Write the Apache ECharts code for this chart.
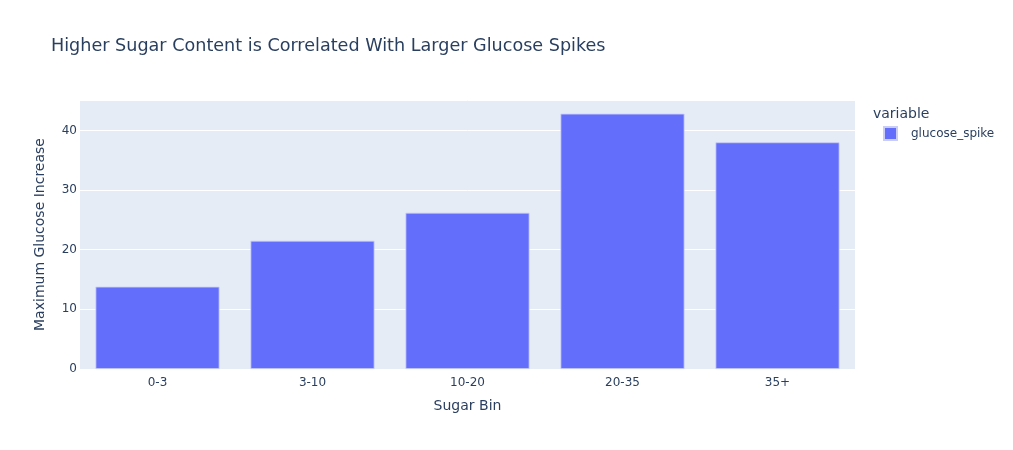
<!DOCTYPE html>
<html>
<head>
<meta charset="utf-8">
<script src="https://cdn.jsdelivr.net/npm/echarts@6/dist/echarts.min.js"></script>
<style>
  html, body { margin: 0; padding: 0; background: #fff; }
  #chart { width: 1013px; height: 450px; }
</style>
</head>
<body>
<div id="chart"></div>
<script>
// sugar bins and max glucose increase
var sugarBins = ['0-3', '3-10', '10-20', '20-35', '35+'];
var glucoseSpike = [13.8, 21.5, 26.2, 42.8, 38.0];
var yTicks = [0, 10, 20, 30, 40];

var font = '"DejaVu Sans", Verdana, Arial, sans-serif';
var ink = '#2a3f5f';

var chart = echarts.init(document.getElementById('chart'));

var option = {
    animation: false,
    textStyle: { fontFamily: font, color: ink },
    title: [{
        text: 'Higher Sugar Content is Correlated With Larger Glucose Spikes',
        left: 46,
        top: 32,
        textStyle: { fontFamily: font, fontSize: 17.6, fontWeight: 'normal', color: ink }
    }, {
        text: 'variable',
        left: 868,
        top: 102,
        textStyle: { fontFamily: font, fontSize: 14, fontWeight: 'normal', color: ink }
    }],
    legend: {
        data: ['glucose_spike'],
        orient: 'vertical',
        left: 878,
        top: 121,
        itemWidth: 13,
        itemHeight: 13,
        itemGap: 12,
        icon: 'rect',
        textStyle: { fontFamily: font, fontSize: 12, color: ink, padding: [0, 0, 0, 9] }
    },
    grid: {
        left: 80,
        right: 158,
        top: 100,
        bottom: 81,
        show: true,
        backgroundColor: '#E5ECF6',
        borderWidth: 0
    },
    xAxis: {
        type: 'category',
        data: sugarBins,
        name: 'Sugar Bin',
        nameLocation: 'middle',
        nameGap: 30,
        nameTextStyle: { fontFamily: font, fontSize: 14, color: ink },
        axisLine: { show: false },
        axisTick: { show: false },
        axisLabel: { fontFamily: font, fontSize: 12, color: ink, margin: 8 }
    },
    yAxis: {
        type: 'value',
        min: 0,
        max: 45.1,
        interval: 10,
        name: 'Maximum Glucose Increase',
        nameLocation: 'middle',
        nameGap: 33,
        nameTextStyle: { fontFamily: font, fontSize: 14, color: ink },
        axisLine: { show: false },
        axisTick: { show: false },
        axisLabel: {
            fontFamily: font, fontSize: 12, color: ink, margin: 3,
            showMaxLabel: false,
            formatter: function (v) { return yTicks.indexOf(v) >= 0 ? String(v) : ''; }
        },
        splitLine: { lineStyle: { color: '#ffffff', width: 1 } }
    },
    series: [{
        name: 'glucose_spike',
        type: 'bar',
        data: glucoseSpike,
        barCategoryGap: '20%',
        itemStyle: {
            color: '#636efa',
            borderColor: '#c9cdf7',
            borderWidth: 0.8
        }
    }]
};
chart.setOption(option);
</script>
</body>
</html>
